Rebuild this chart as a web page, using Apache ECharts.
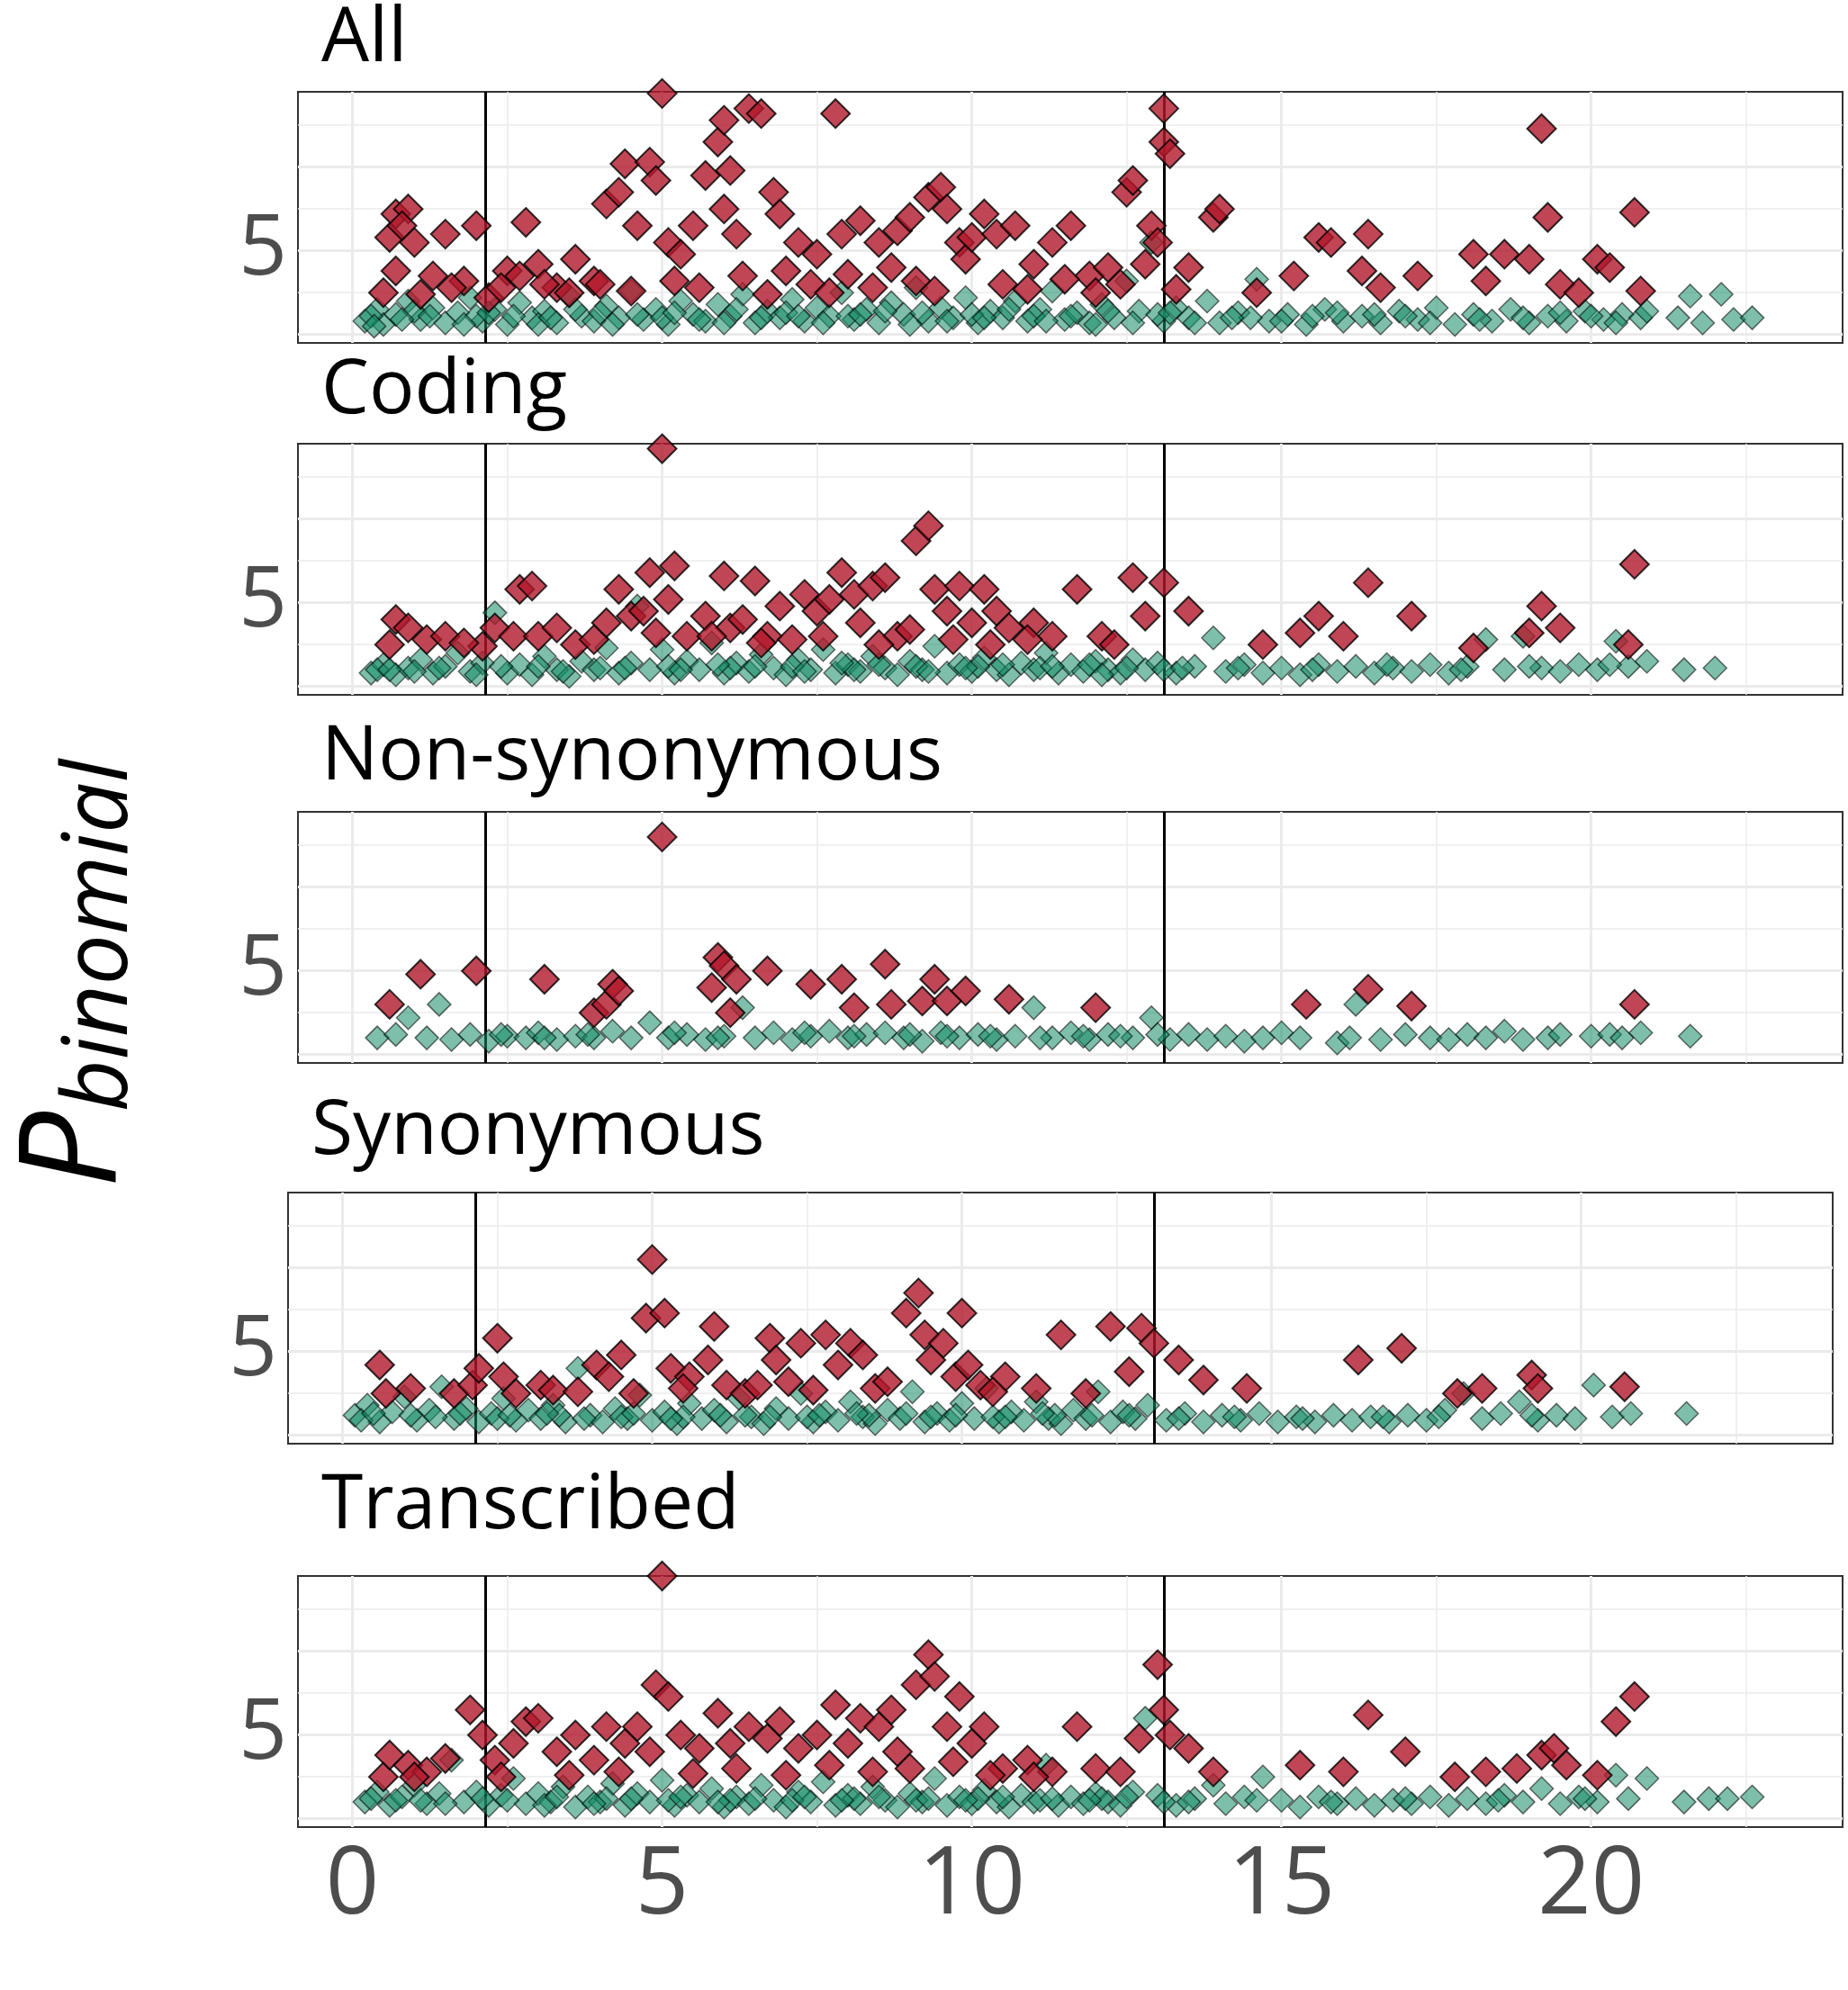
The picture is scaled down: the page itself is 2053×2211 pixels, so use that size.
<!DOCTYPE html>
<html>
<head>
<meta charset="utf-8">
<script src="https://cdn.jsdelivr.net/npm/echarts@6/dist/echarts.min.js"></script>
<style>html,body{margin:0;padding:0;background:#fff}#chart{width:2053px;height:2211px}</style>
</head>
<body>
<div id="chart"></div>
<script>
"use strict";

var panelNames = ['All', 'Coding', 'Non-synonymous', 'Synonymous', 'Transcribed'];
var xTicks = [0, 5, 10, 15, 20];
var yTicks = [0, 5, 10];
var boundaryLines = [2.15, 13.1];

var allRed = [[0.7,7.2],[0.9,7.5],[0.6,5.8],[0.8,6.5],[1.0,5.5],[0.7,3.8],[0.5,2.5],[1.3,3.5],[1.5,6.0],[1.8,3.2],[2.0,6.5],[2.2,2.2],[2.5,3.8],[2.8,6.7],[2.7,3.5],[3.0,4.2],[3.3,2.8],[3.6,4.5],[3.9,3.2],[4.1,7.8],[4.3,8.5],[4.4,10.2],[4.6,6.5],[4.8,10.3],[4.9,9.2],[5.0,14.4],[5.1,5.5],[5.3,4.8],[5.5,6.5],[5.7,9.5],[5.9,11.5],[6.0,12.8],[6.1,9.8],[6.0,7.5],[6.2,6.0],[6.4,13.5],[6.6,13.2],[6.8,8.5],[6.9,7.2],[7.2,5.5],[7.5,4.8],[7.8,13.2],[7.9,6.0],[8.2,6.8],[8.5,5.5],[8.8,6.2],[9.0,7.0],[9.3,8.2],[9.5,8.8],[9.6,7.5],[9.8,5.5],[9.9,4.5],[10.0,5.8],[10.2,7.2],[10.4,6.0],[10.7,6.5],[11.0,4.2],[11.3,5.5],[11.6,6.5],[11.9,3.5],[12.2,4.0],[12.5,8.5],[12.6,9.2],[12.9,6.5],[13.1,13.5],[13.1,11.5],[13.2,10.8],[13.0,5.5],[13.5,4.0],[13.9,7.0],[14.0,7.5],[14.6,2.5],[15.2,3.5],[15.6,5.8],[15.8,5.5],[16.4,6.0],[16.3,3.8],[16.6,2.8],[17.2,3.5],[18.1,4.8],[18.3,3.2],[18.6,4.8],[19.0,4.5],[19.2,12.3],[19.3,7.0],[19.5,3.0],[19.8,2.5],[20.1,4.5],[20.3,4.0],[20.7,7.3],[20.8,2.6],[2.4,2.8],[3.1,3.0],[3.5,2.5],[4.0,3.0],[4.5,2.6],[5.2,3.2],[5.6,2.8],[6.3,3.5],[6.7,2.4],[7.0,3.8],[7.4,3.0],[7.7,2.5],[8.0,3.6],[8.4,2.8],[8.7,4.0],[9.1,3.2],[9.4,2.6],[10.5,3.0],[10.9,2.7],[11.5,3.3],[12.0,2.5],[12.4,3.0],[12.8,4.2],[13.3,2.7],[1.1,2.4],[1.6,2.8]];
var allGreen = [[0.2,0.8],[0.4,1.5],[0.5,0.6],[0.7,1.2],[0.9,2.0],[1.1,0.9],[1.3,1.6],[1.5,0.7],[1.7,1.3],[1.9,2.2],[2.1,0.8],[2.3,1.5],[2.5,0.6],[2.7,1.9],[2.9,1.0],[3.1,1.4],[3.3,0.7],[3.5,2.3],[3.7,1.1],[3.9,0.8],[4.1,1.7],[4.3,1.0],[4.5,2.6],[4.7,0.9],[4.9,1.5],[5.1,0.6],[5.3,2.0],[5.5,1.2],[5.7,0.8],[5.9,1.8],[6.1,1.1],[6.3,2.4],[6.5,0.7],[6.7,1.4],[6.9,1.0],[7.1,2.1],[7.3,0.8],[7.5,1.6],[7.7,1.1],[7.9,2.5],[8.1,0.9],[8.3,1.5],[8.5,0.7],[8.7,1.9],[8.9,1.2],[9.1,2.8],[9.3,0.8],[9.5,1.6],[9.7,1.0],[9.9,2.2],[10.1,0.7],[10.3,1.4],[10.5,1.0],[10.7,2.0],[10.9,0.8],[11.1,1.5],[11.3,2.6],[11.5,0.9],[11.7,1.3],[11.9,0.7],[12.1,1.8],[12.3,1.0],[12.5,3.2],[12.7,1.4],[12.9,5.5],[13.1,0.8],[13.3,1.6],[13.5,1.0],[13.8,2.0],[14.0,0.7],[14.3,1.3],[14.6,3.3],[14.8,0.8],[15.1,1.2],[15.4,0.6],[15.7,1.5],[16.0,0.8],[16.3,1.1],[16.6,0.7],[16.9,1.4],[17.2,0.9],[17.5,1.6],[17.8,0.6],[18.1,1.2],[18.4,0.8],[18.7,1.5],[19.0,0.7],[19.3,1.1],[19.6,0.8],[19.9,1.4],[20.2,0.9],[20.5,1.2],[20.8,1.0],[21.4,1.0],[21.6,2.3],[21.8,0.7],[22.1,2.4],[22.3,0.9],[22.6,1.0],[0.3,1.1],[1.0,1.4],[2.0,1.1],[3.0,0.6],[4.0,1.3],[5.0,1.0],[6.0,0.7],[7.0,1.3],[8.0,1.1],[9.0,0.6],[10.0,1.2],[11.0,1.1],[12.0,0.6],[13.0,1.2],[14.5,1.0],[15.9,1.3],[17.0,1.1],[18.9,1.0],[20.0,1.1],[20.9,1.4],[0.35,0.5],[0.8,0.9],[1.25,1.1],[1.8,0.6],[2.2,1.3],[2.6,1.1],[3.2,1.0],[3.6,1.5],[4.2,0.6],[4.6,1.2],[5.2,1.3],[5.6,0.9],[6.2,1.5],[6.6,1.0],[7.2,1.1],[7.6,0.7],[8.2,1.2],[8.6,1.4],[9.2,1.3],[9.6,0.8],[10.2,1.0],[10.6,1.5],[11.2,0.8],[11.6,1.1],[12.2,1.4],[12.6,0.7],[13.2,1.3],[13.6,0.7],[14.2,1.0],[15.0,0.8],[15.5,1.1],[16.5,1.2],[17.4,0.7],[18.2,0.9],[19.5,1.3],[20.4,0.7]];

var codingRed = [[0.6,2.5],[0.7,4.0],[0.9,3.5],[1.2,2.8],[1.5,3.0],[2.1,2.4],[2.3,3.5],[2.6,3.0],[2.7,5.8],[2.9,6.0],[3.0,3.0],[3.3,3.5],[3.6,2.5],[4.1,3.8],[4.3,5.8],[4.5,4.2],[4.7,4.5],[4.8,6.8],[5.0,14.2],[5.1,5.2],[5.2,7.2],[5.4,3.0],[5.7,4.2],[6.0,6.6],[6.1,3.5],[6.3,4.0],[6.5,6.3],[6.7,3.0],[6.9,4.8],[7.1,2.8],[7.3,5.5],[7.5,4.5],[7.7,5.2],[7.9,6.8],[8.1,5.5],[8.2,3.8],[8.4,6.0],[8.6,6.5],[8.8,3.0],[9.1,8.7],[9.3,9.6],[9.4,5.8],[9.6,4.5],[9.8,6.0],[10.0,3.8],[10.2,5.8],[10.4,4.5],[10.6,3.5],[11.0,3.8],[11.3,3.0],[11.7,5.8],[12.1,3.0],[12.6,6.5],[12.8,4.2],[13.1,6.2],[13.5,4.5],[14.7,2.5],[15.3,3.2],[15.6,4.2],[16.0,3.0],[16.4,6.2],[17.1,4.2],[18.1,2.3],[19.2,4.8],[19.0,3.2],[19.5,3.5],[20.7,7.3],[20.6,2.5],[1.8,2.6],[3.9,2.8],[4.9,3.2],[5.8,3.0],[6.6,2.6],[7.6,3.0],[8.5,2.5],[9.0,3.4],[9.7,2.8],[10.3,2.5],[10.9,2.8],[12.3,2.5]];
var codingGreen = [[0.3,0.8],[0.5,1.3],[0.7,0.7],[0.9,1.1],[1.1,1.6],[1.3,0.8],[1.5,1.2],[1.7,2.0],[1.9,0.9],[2.1,1.4],[2.3,4.4],[2.5,0.8],[2.7,1.3],[2.9,0.7],[3.1,1.8],[3.3,1.0],[3.5,0.6],[3.7,1.5],[3.9,1.0],[4.1,2.3],[4.3,0.8],[4.5,1.4],[4.6,4.8],[4.8,1.0],[5.0,2.2],[5.2,0.8],[5.4,1.5],[5.6,1.0],[5.8,2.6],[6.0,0.8],[6.2,1.4],[6.4,0.9],[6.6,1.9],[6.8,1.1],[7.0,0.7],[7.2,1.6],[7.4,1.0],[7.6,2.2],[7.8,0.8],[8.0,1.3],[8.2,0.9],[8.4,1.8],[8.6,1.1],[8.8,0.7],[9.0,1.5],[9.2,1.0],[9.4,2.4],[9.6,0.8],[9.8,1.3],[10.0,0.9],[10.2,1.7],[10.4,1.0],[10.6,0.7],[10.8,1.4],[11.0,1.0],[11.2,2.0],[11.4,0.8],[11.6,1.3],[11.8,0.9],[12.0,1.5],[12.2,1.0],[12.4,0.8],[12.6,1.6],[12.8,1.0],[13.0,1.4],[13.3,0.8],[13.6,1.2],[13.9,2.9],[14.1,0.9],[14.4,1.3],[14.7,0.8],[15.0,1.1],[15.3,0.7],[15.6,1.3],[15.9,0.9],[16.2,1.2],[16.5,0.8],[16.8,1.1],[17.1,0.9],[17.4,1.3],[17.7,0.8],[18.0,1.2],[18.3,2.8],[18.6,1.0],[18.9,3.0],[19.2,1.1],[19.5,0.9],[19.8,1.3],[20.1,1.0],[20.4,2.7],[20.6,1.2],[20.9,1.5],[21.5,1.0],[22.0,1.1],[0.4,1.0],[1.0,0.9],[2.0,0.7],[3.0,1.2],[4.0,1.1],[5.1,1.2],[6.1,1.1],[7.1,1.2],[8.1,1.0],[9.1,1.2],[10.1,1.2],[11.1,1.1],[12.1,0.7],[13.1,1.0],[0.6,1.0],[1.4,1.1],[2.4,1.2],[3.4,0.9],[4.4,1.1],[5.3,1.0],[5.9,1.3],[6.5,1.2],[7.3,0.9],[7.9,1.4],[8.5,1.3],[9.3,0.9],[9.9,1.1],[10.5,1.3],[11.3,1.2],[11.9,1.3],[12.5,1.1],[13.4,1.1],[14.3,1.1],[15.5,1.0],[16.7,1.3],[17.9,1.0],[19.0,1.2],[20.3,1.3]];

var nonsynRed = [[0.6,3.0],[1.1,4.8],[2.0,5.0],[3.1,4.5],[3.9,2.5],[4.1,3.0],[4.2,4.2],[4.3,3.8],[5.0,13.0],[5.8,4.0],[5.9,5.8],[6.0,5.3],[6.1,2.5],[6.2,4.5],[6.7,5.0],[7.4,4.2],[7.9,4.5],[8.1,2.8],[8.6,5.4],[8.7,3.0],[9.2,3.2],[9.4,4.5],[9.6,3.2],[9.9,3.8],[10.6,3.3],[12.0,2.8],[15.4,3.0],[16.4,3.9],[17.1,2.9],[20.7,3.0]];
var nonsynGreen = [[0.4,1.0],[0.7,1.2],[0.9,2.2],[1.2,1.0],[1.4,3.0],[1.6,0.9],[1.9,1.2],[2.2,0.8],[2.5,1.1],[2.8,1.0],[3.0,1.3],[3.3,0.9],[3.6,1.1],[3.9,1.0],[4.2,1.4],[4.5,1.0],[4.8,1.9],[5.1,1.0],[5.4,1.2],[5.7,0.9],[6.0,1.1],[6.3,2.8],[6.5,1.0],[6.8,1.3],[7.1,0.9],[7.4,1.1],[7.7,1.4],[8.0,1.0],[8.3,1.2],[8.9,1.0],[9.2,0.8],[9.5,1.3],[9.8,1.0],[10.1,1.2],[10.4,0.9],[10.7,1.1],[11.0,2.8],[11.3,1.0],[11.6,1.3],[11.9,0.9],[12.2,1.2],[12.6,1.0],[12.9,2.2],[13.2,0.9],[13.5,1.2],[13.8,0.9],[14.1,1.1],[14.4,0.8],[14.7,1.0],[15.0,1.3],[15.3,1.0],[15.9,0.7],[16.1,1.0],[16.2,3.0],[16.6,0.9],[17.0,1.2],[17.4,1.0],[17.7,0.9],[18.0,1.2],[18.3,1.0],[18.6,1.4],[18.9,0.9],[19.3,1.0],[19.5,1.2],[20.0,1.1],[20.3,1.2],[20.5,1.0],[20.8,1.3],[21.6,1.1],[2.4,1.2],[3.1,1.0],[3.8,1.2],[5.2,1.3],[5.9,1.0],[7.3,1.3],[8.1,1.1],[8.6,1.3],[9.0,1.2],[9.6,1.1],[10.3,1.1],[11.1,1.0],[11.8,1.1],[12.4,1.1],[13.0,1.2]];

var synRed = [[0.6,4.2],[0.7,2.5],[1.1,2.8],[1.8,2.5],[2.1,3.0],[2.2,4.0],[2.5,5.8],[2.6,3.5],[2.8,2.5],[3.2,3.0],[3.4,2.7],[4.1,4.2],[4.3,3.5],[4.5,4.8],[4.7,2.5],[4.9,7.0],[5.0,10.5],[5.2,7.3],[5.3,4.0],[5.6,3.5],[5.9,4.5],[6.0,6.5],[6.2,3.0],[6.5,2.5],[6.9,5.8],[7.0,4.5],[7.2,3.2],[7.4,5.5],[7.8,6.0],[8.0,4.2],[8.2,5.5],[8.4,4.8],[8.6,2.8],[9.1,7.3],[9.3,8.5],[9.4,6.0],[9.5,4.5],[9.7,5.5],[9.9,3.5],[10.0,7.3],[10.1,4.2],[10.3,3.0],[10.7,3.5],[11.6,6.0],[12.0,2.5],[12.4,6.5],[12.7,3.8],[12.9,6.4],[13.1,5.5],[13.5,4.5],[13.9,3.3],[14.6,2.8],[16.4,4.5],[17.1,5.2],[18.0,2.5],[18.4,2.8],[19.2,3.6],[19.3,2.8],[20.7,2.9],[3.8,2.6],[5.5,2.8],[6.7,3.0],[7.6,2.7],[8.8,3.2],[10.5,2.6],[11.2,2.8]];
var synGreen = [[0.2,1.2],[0.4,1.8],[0.6,0.8],[0.8,1.4],[1.0,2.3],[1.2,0.9],[1.4,1.5],[1.6,2.9],[1.8,1.0],[2.0,1.6],[2.2,0.8],[2.4,1.3],[2.6,2.2],[2.8,0.9],[3.0,1.5],[3.2,1.0],[3.4,1.8],[3.6,0.8],[3.8,4.0],[4.0,1.2],[4.2,0.8],[4.4,1.6],[4.6,1.0],[4.8,2.4],[5.0,0.9],[5.2,1.4],[5.4,0.7],[5.6,1.9],[5.8,1.0],[6.0,1.5],[6.2,0.8],[6.4,2.2],[6.6,1.1],[6.8,0.7],[7.0,1.6],[7.2,1.0],[7.4,2.5],[7.6,0.8],[7.8,1.4],[8.0,0.9],[8.2,2.0],[8.4,1.1],[8.6,0.7],[8.8,1.5],[9.0,1.0],[9.2,2.6],[9.4,0.8],[9.6,1.3],[9.8,0.9],[10.0,1.9],[10.2,1.0],[10.4,2.8],[10.6,0.8],[10.8,1.4],[11.0,0.9],[11.2,2.0],[11.4,1.0],[11.6,0.7],[11.8,1.5],[12.0,1.0],[12.2,2.6],[12.4,0.8],[12.6,1.4],[12.8,1.0],[13.0,1.8],[13.3,0.9],[13.6,1.3],[13.9,0.8],[14.2,1.2],[14.5,0.9],[14.8,1.3],[15.1,0.8],[15.4,1.1],[15.7,0.8],[16.0,1.2],[16.3,0.9],[16.6,1.1],[16.9,0.8],[17.2,1.2],[17.5,0.9],[17.8,1.5],[18.1,2.5],[18.4,1.0],[18.7,1.3],[19.0,2.0],[19.3,0.9],[19.6,1.2],[19.9,1.0],[20.2,3.0],[20.5,1.1],[20.8,1.3],[21.7,1.3],[0.3,0.9],[1.5,1.1],[2.5,1.0],[3.5,1.2],[4.5,1.1],[5.5,1.1],[6.5,1.2],[7.5,1.1],[8.5,1.2],[9.5,1.1],[10.5,1.1],[11.5,1.2],[0.5,1.3],[1.1,1.2],[1.9,1.3],[2.7,1.2],[3.3,1.3],[3.9,1.0],[4.7,1.3],[5.3,1.0],[6.1,1.2],[6.9,1.1],[7.7,1.2],[8.3,1.3],[9.1,1.3],[9.9,1.2],[10.7,1.1],[11.3,1.3],[12.1,1.2],[12.7,1.2],[13.5,1.0],[14.4,1.1],[15.5,1.0],[16.8,1.1],[17.7,1.1],[19.2,1.2]];

var transRed = [[0.5,2.5],[0.6,3.8],[0.9,3.2],[1.2,2.8],[1.5,3.6],[1.9,6.5],[2.1,5.0],[2.3,3.5],[2.6,4.5],[2.8,5.8],[3.0,6.0],[3.3,4.0],[3.6,5.0],[3.9,3.5],[4.1,5.5],[4.4,4.5],[4.6,5.5],[4.8,4.0],[4.9,8.0],[5.0,14.5],[5.1,7.3],[5.3,5.0],[5.6,4.2],[5.9,6.3],[6.1,4.5],[6.4,5.5],[6.7,4.8],[6.9,5.8],[7.2,4.2],[7.5,5.0],[7.8,6.8],[8.0,4.5],[8.2,6.0],[8.5,5.5],[8.7,6.5],[8.8,4.0],[9.1,8.0],[9.3,9.8],[9.4,8.5],[9.6,5.5],[9.8,7.3],[10.0,4.5],[10.2,5.5],[10.5,3.0],[10.9,3.5],[11.3,2.8],[11.7,5.5],[12.0,3.0],[12.4,2.8],[12.7,4.8],[13.0,9.2],[13.1,6.5],[13.2,5.0],[13.5,4.2],[13.9,2.8],[15.3,3.2],[16.0,2.8],[16.4,6.2],[17.0,4.0],[17.8,2.5],[18.3,2.8],[18.8,3.0],[19.2,3.8],[19.4,4.2],[19.6,3.2],[20.1,2.6],[20.4,5.8],[20.7,7.3],[1.0,2.5],[2.4,2.5],[3.5,2.6],[4.3,2.8],[5.5,2.7],[6.2,3.0],[7.0,2.6],[7.7,3.2],[8.4,2.8],[9.0,3.0],[9.7,3.4],[10.3,2.6],[11.0,2.5]];
var transGreen = [[0.2,1.0],[0.4,1.6],[0.6,0.8],[0.8,1.3],[1.0,2.0],[1.2,0.9],[1.4,1.5],[1.6,3.5],[1.8,1.0],[2.0,1.6],[2.2,0.8],[2.4,1.4],[2.6,2.4],[2.8,0.9],[3.0,1.5],[3.2,1.0],[3.4,1.9],[3.6,0.7],[3.8,1.3],[4.0,1.0],[4.2,2.1],[4.4,0.8],[4.6,1.5],[4.8,1.0],[5.0,2.3],[5.2,0.8],[5.4,1.4],[5.6,1.0],[5.8,1.8],[6.0,0.7],[6.2,1.3],[6.4,0.9],[6.6,2.0],[6.8,1.1],[7.0,0.7],[7.2,1.6],[7.4,1.0],[7.6,2.2],[7.8,0.8],[8.0,1.4],[8.2,0.9],[8.4,1.9],[8.6,1.1],[8.8,0.7],[9.0,1.5],[9.2,1.0],[9.4,2.4],[9.6,0.8],[9.8,1.3],[10.0,0.9],[10.2,1.7],[10.4,1.0],[10.6,0.7],[10.8,1.4],[11.0,1.0],[11.2,3.2],[11.4,0.8],[11.6,1.3],[11.8,0.9],[12.0,1.5],[12.2,1.0],[12.4,0.8],[12.6,1.6],[12.8,6.0],[13.0,1.4],[13.3,0.8],[13.6,1.2],[13.9,2.0],[14.1,0.9],[14.4,1.3],[14.7,2.5],[15.0,1.1],[15.3,0.7],[15.6,1.3],[15.9,0.9],[16.2,1.2],[16.5,0.8],[16.8,1.1],[17.1,0.9],[17.4,1.3],[17.7,0.8],[18.0,1.2],[18.3,0.9],[18.6,1.4],[18.9,1.0],[19.2,1.8],[19.5,0.9],[19.8,1.3],[20.1,1.0],[20.4,2.6],[20.6,1.2],[20.9,2.4],[21.5,1.0],[21.9,1.2],[22.2,1.2],[22.6,1.3],[0.3,1.2],[1.1,1.1],[2.1,1.2],[3.1,0.8],[4.1,1.2],[5.1,1.1],[6.1,1.1],[7.1,1.1],[8.1,1.2],[9.1,1.1],[10.1,1.2],[11.1,1.1],[12.1,1.2],[13.1,1.0],[0.7,1.1],[1.5,0.9],[2.5,1.1],[3.3,1.3],[3.9,0.9],[4.5,1.2],[5.3,1.3],[5.9,1.0],[6.5,1.2],[7.3,1.3],[7.9,1.1],[8.5,1.3],[9.3,1.2],[9.9,1.1],[10.5,1.3],[11.3,1.2],[11.9,1.1],[12.5,1.3],[13.5,1.0],[14.6,1.1],[15.8,1.0],[17.0,1.2],[18.5,1.1],[19.9,1.2]];

var redSets = [allRed, codingRed, nonsynRed, synRed, transRed];
var greenSets = [allGreen, codingGreen, nonsynGreen, synGreen, transGreen];

var panelTops = [102, 493, 902, 1325, 1751];
var panelLefts = [331, 331, 331, 320, 331];
var titleY = [54, 445, 852, 1268, 1684];
var gridX = [0, 2.5, 5, 7.5, 10, 12.5, 15, 17.5, 20, 22.5];
var gridY = [0, 2.5, 5, 7.5, 10, 12.5];

var grids = [], xAxes = [], yAxes = [], series = [], graphics = [];
for (var i = 0; i < 5; i++) {
    var last = i === 4;
    grids.push({ left: panelLefts[i], top: panelTops[i], width: 1716, height: 279,
        show: true, borderColor: '#333', borderWidth: 2, backgroundColor: '#fff' });
    xAxes.push({ type: 'value', gridIndex: i, min: -0.88, max: 24.06,
        splitLine: { show: false }, axisLine: { show: false },
        axisTick: { show: last, length: 10, lineStyle: { color: '#333', width: 2 }, customValues: xTicks },
        axisLabel: { show: last, fontSize: 104, color: '#4d4d4d', fontFamily: 'Open Sans', margin: 14, customValues: xTicks } });
    yAxes.push({ type: 'value', gridIndex: i, min: -0.5, max: 14.5,
        splitLine: { show: false }, axisLine: { show: false },
        axisTick: { show: true, length: 10, lineStyle: { color: '#333', width: 2 }, customValues: yTicks },
        axisLabel: { fontSize: 94, color: '#4d4d4d', fontFamily: 'Open Sans', margin: 12, customValues: yTicks } });

    var lines = [];
    gridX.forEach(function (v) { lines.push({ xAxis: v, lineStyle: { color: '#ebebeb', width: v % 5 === 0 ? 3 : 1.5, type: 'solid' } }); });
    gridY.forEach(function (v) { lines.push({ yAxis: v, lineStyle: { color: '#ebebeb', width: v % 5 === 0 ? 3 : 1.5, type: 'solid' } }); });
    boundaryLines.forEach(function (v) { lines.push({ xAxis: v, lineStyle: { color: '#000', width: 3, type: 'solid' } }); });

    series.push({ type: 'scatter', xAxisIndex: i, yAxisIndex: i, data: greenSets[i],
        symbol: 'diamond', symbolSize: 26, z: 3,
        itemStyle: { color: 'rgba(24,140,104,0.7)', borderColor: 'rgba(0,0,0,0.7)', borderWidth: 1.5 },
        markLine: { silent: true, symbol: 'none', label: { show: false }, animation: false, z: 1, data: lines } });
    series.push({ type: 'scatter', xAxisIndex: i, yAxisIndex: i, data: redSets[i],
        symbol: 'diamond', symbolSize: 32, z: 4,
        itemStyle: { color: '#b2182b', borderColor: '#000', borderWidth: 2 } });

    graphics.push({ type: 'text', left: panelLefts[i] + 26, top: titleY[i] - 52,
        style: { text: panelNames[i], fontSize: 84, fill: '#000', fontFamily: 'Open Sans' } });
}

graphics.push({ type: 'text', x: 8, y: 1320, rotation: Math.PI / 2,
    style: { text: '{p|P}{s|binomial}', rich: {
        p: { fontSize: 150, fontStyle: 'italic', fontFamily: 'Open Sans', fill: '#000' },
        s: { fontSize: 100, fontStyle: 'italic', fontFamily: 'Open Sans', fill: '#000', padding: [55, 0, 0, 0] } } } });

var chart = echarts.init(document.getElementById('chart'));
chart.setOption({
    animation: false,
    grid: grids, xAxis: xAxes, yAxis: yAxes, series: series, graphic: graphics
});
</script>
</body>
</html>
